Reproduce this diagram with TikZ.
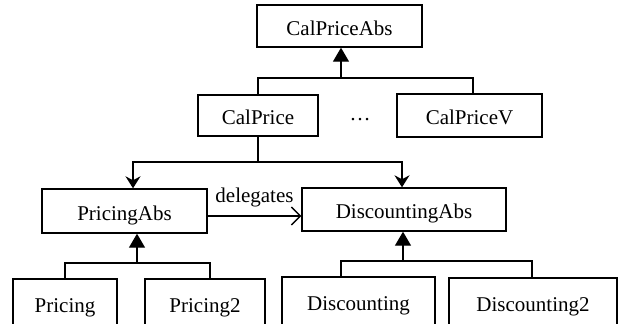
\documentclass[tikz,border=0pt]{standalone}
\usepackage{fontspec}
\setmainfont{Liberation Serif}
\usetikzlibrary{arrows.meta,calc}

\tikzset{
  cls/.style={shape=rectangle,draw=black,line width=1.4pt,inner sep=0pt,
    text height=20pt,text depth=2pt,font=\fontsize{21}{24}\selectfont},
  inherit/.style={-{Triangle[length=14pt,width=16pt]},line width=1.4pt},
  assoc/.style={-{Stealth[length=12pt,width=15pt,inset=4pt]},line width=1.4pt},
  deleg/.style={-{Straight Barb[length=9pt,width=18pt]},line width=1.4pt},
}

\begin{document}
\begin{tikzpicture}[x=1pt,y=-1pt]
\useasboundingbox (0,0) rectangle (619,324);

% classes
\node[cls,minimum width=165pt,minimum height=42pt] (CPA) at (339.5,26) {CalPriceAbs};
\node[cls,minimum width=120pt,minimum height=41pt] (CP) at (258,115.5) {CalPrice};
\node[cls,minimum width=145pt,minimum height=43pt] (CPV) at (469.5,115.5) {CalPriceV};
\node[font=\fontsize{21}{24}\selectfont] (dots) at (360,120) {\dots};
\node[cls,minimum width=165pt,minimum height=44pt] (PA) at (124.5,211) {PricingAbs};
\node[cls,minimum width=204pt,minimum height=43pt] (DA) at (404,209.5) {DiscountingAbs};
\node[cls,minimum width=104pt,minimum height=48pt] (P1) at (65,303) {Pricing};
\node[cls,minimum width=120pt,minimum height=48pt] (P2) at (205,303) {Pricing2};
\node[cls,minimum width=153pt,minimum height=48pt] (D1) at (358.5,301) {Discounting};
\node[cls,minimum width=168pt,minimum height=48pt] (D2) at (533,302) {Discounting2};

% inheritance from CalPriceAbs
\coordinate (j1) at (341,78);
\draw[line width=1.4pt] (CP.north) |- (j1) -| ([xshift=3.5pt]CPV.north);
\draw[inherit] (j1) -- (j1 |- CPA.south);

% CalPrice uses both abstractions
\coordinate (j2) at (258,162);
\draw[line width=1.4pt] (CP.south) -- (j2);
\draw[assoc] (j2) -| ([xshift=8.5pt]PA.north);
\draw[assoc] (j2) -| ([xshift=-2pt]DA.north);

% delegation
\draw[deleg] ([yshift=-5pt]PA.east) -- ([yshift=-5pt]PA.east -| DA.west)
  node[midway,above=8pt,inner sep=0pt,font=\fontsize{21}{24}\selectfont] (lbl) {delegates};

% inheritance from PricingAbs
\coordinate (j3) at (137,263);
\draw[line width=1.4pt] (P1.north) |- (j3) -| ([xshift=5pt]P2.north);
\draw[inherit] (j3) -- (j3 |- PA.south);

% inheritance from DiscountingAbs
\coordinate (j4) at (403,261);
\draw[line width=1.4pt] ([xshift=-17.5pt]D1.north) |- (j4) -| ([xshift=-1pt]D2.north);
\draw[inherit] (j4) -- (j4 |- DA.south);
\end{tikzpicture}
\end{document}
